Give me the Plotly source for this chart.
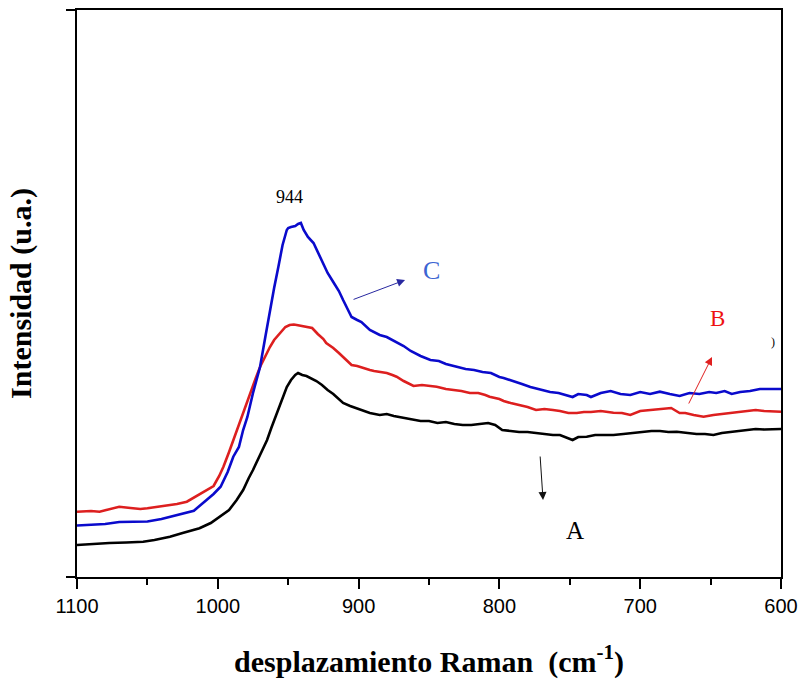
import plotly.graph_objects as go

# Raman shift (cm^-1) and intensities (a.u.)
x_C = [1100,1090,1080,1070,1060,1050,1040,1034,1025,1017,1008,1003,998,993,989,985,982,979,975,972,970,966,963,960,957,954,951,950,948,945,943,941,939,936,932,928,925,922,918,914,911,908,905,901,898,892,885,880,873,868,863,856,849,843,838,830,824,818,812,806,800,797,790,784,778,772,767,764,758,752,748,744,738,735,728,721,714,707,700,693,686,679,672,665,658,651,646,640,635,629,622,615,608,600]
y_C = [51.5,52,53,55,55.5,55.5,58,60.3,64,66.3,77,83,90.3,105,120.3,130,147,160,184,199,210,242,267,289,310,332,347,349,350,351,353,354,347,340,334,322,313,304,295,286,277,269,260,257,255,247,242,240,235,231,226,221,217,216,213,210,208,207,205,204,200,199,196,193,190,188,186,185,184,182,180,183,182,180,184,186,183,182,185,183,185.3,183,181,184,183,185,184,186,183,185,186,188,188,188]

x_B = [1100,1090,1084,1077,1070,1062,1055,1050,1043,1036,1029,1022,1015,1008,1003,999,996,992,989,985,982,979,976,973,970,966,963,960,956,952,949,946,944,940,936,933,929,925,923,918,914,911,908,905,901,897,892,889,885,880,876,873,868,864,861,855,850,844.5,838,832,827,821,815,810,807,800,797,792,786,780,774,768,762,757,751,745,740,735,728,719,713,707,700,694,688,682,678,672,668,662,655,648,642,636,630,624,618,612,606,600]
y_B = [65.3,66,65.3,68,70.3,69,68,68.7,70,71,73,75.3,81,87,91,101,110.3,125,137,152,164,176,187,199,210,222,230,237,244,250,252,252.5,252,251,250,249,243,238,234,229,224,220,216,212,211,209,207,206,205,204,202,200.3,196,193,191,192,191,190.3,188,187,186,184,184,182,180.3,178,176,174,172,170,167,168,167,166,164,164,165,165,166,164.3,164,162,166,167,168,169,169,164,164,162,160.3,162,163,164,165,166.5,167,166,165.5,165.3]

x_A = [1100,1090,1077,1065,1053,1045,1034,1025,1013,1005,998.5,992,986.6,982,978,975,970,965,962,958,955,951,948,945,943,940,937,934,930,926,922,918,914,911,906,900,892,885,880,875,868,862,856,850,844,838,832,826,820,814,808,803,798,792,786,780,774,768,762,757,752,748,744,738,732,726,719,712,705,698,692,686,680,674,668,660,654,648,642,636,630,624,618,612,606,600]
y_A = [32,33,34,34.5,35.3,37,40.3,44,48.7,54,60.3,67,77,87,99,107,122,137,149,164,177,190,197,202,204,202,201,199,196,192,187,183,178,174,171,168,164,162,163,161,159,158,156,156,154,155,153,152,152,153,154,152,147,146,145,145,144,143,142,142,139,137,140,140.3,142,142,142,143,144,145,146,146,145,145.3,144,143,143,142,144,145,146,147,148,147.5,148,148]

x_ticks = [1100, 1000, 900, 800, 700, 600]

fig = go.Figure()
fig.add_trace(go.Scatter(x=x_A, y=y_A, mode="lines", name="A",
                         line=dict(color="#000000", width=2.6)))
fig.add_trace(go.Scatter(x=x_B, y=y_B, mode="lines", name="B",
                         line=dict(color="#DD1F1F", width=2.6)))
fig.add_trace(go.Scatter(x=x_C, y=y_C, mode="lines", name="C",
                         line=dict(color="#0A0ACC", width=2.6)))

serif = "Liberation Serif"
sans = "Liberation Sans"

fig.update_layout(
    width=801, height=680,
    margin=dict(l=77, r=20, t=10, b=103),
    paper_bgcolor="white", plot_bgcolor="white",
    showlegend=False,
    xaxis=dict(
        automargin=False,
        range=[1100, 600], autorange=False,
        tickvals=x_ticks, ticktext=[str(v) for v in x_ticks],
        ticks="outside", ticklen=10, tickwidth=1.5, tickcolor="black",
        minor=dict(dtick=50, tick0=600, ticks="outside", ticklen=6, tickwidth=1.5, tickcolor="black"),
        showline=True, linecolor="black", linewidth=2, mirror=True,
        showgrid=False, zeroline=False,
        tickfont=dict(family=sans, size=20, color="black"),
        title=dict(text="<b>desplazamiento Raman  (cm<sup>-1</sup>)</b>",
                   font=dict(family=serif, size=30, color="black"), standoff=35),
    ),
    yaxis=dict(
        automargin=False,
        range=[0, 567], autorange=False,
        showticklabels=False, ticks="",
        showline=True, linecolor="black", linewidth=2, mirror=True,
        showgrid=False, zeroline=False,
        title=dict(text="<b>Intensidad (u.a.)</b>",
                   font=dict(family=serif, size=30, color="black"), standoff=35),
    ),
)

# small extensions of top and bottom frame lines to the left
for yy in (0, 1):
    fig.add_shape(type="line", xref="paper", yref="paper",
                  x0=-11/704, x1=0, y0=yy, y1=yy,
                  line=dict(color="black", width=2))

fig.add_annotation(x=949, y=380, xref="x", yref="y", text="944", showarrow=False,
                   font=dict(family=serif, size=18, color="black"))
fig.add_annotation(x=867, y=297, xref="x", yref="y", ax=-53, ay=20,
                   text="", showarrow=True, arrowhead=2, arrowsize=1.6,
                   arrowwidth=1, arrowcolor="#2828A0")
fig.add_annotation(x=848, y=307, xref="x", yref="y", text="C", showarrow=False,
                   font=dict(family=serif, size=26, color="#3C64D2"))
fig.add_annotation(x=649, y=220, xref="x", yref="y", ax=-24, ay=48,
                   text="", showarrow=True, arrowhead=2, arrowsize=1.6,
                   arrowwidth=1, arrowcolor="#E02020")
fig.add_annotation(x=645, y=259, xref="x", yref="y", text="B", showarrow=False,
                   font=dict(family=serif, size=23, color="#EE1111"))
fig.add_annotation(x=606, y=235, xref="x", yref="y", text=")", showarrow=False,
                   font=dict(family=serif, size=12, color="black"))
fig.add_annotation(x=769, y=77, xref="x", yref="y", ax=-3, ay=-45,
                   text="", showarrow=True, arrowhead=2, arrowsize=1.6,
                   arrowwidth=1, arrowcolor="#111111")
fig.add_annotation(x=746, y=47, xref="x", yref="y", text="A", showarrow=False,
                   font=dict(family=serif, size=25, color="black"))

fig.write_html("out.html")
